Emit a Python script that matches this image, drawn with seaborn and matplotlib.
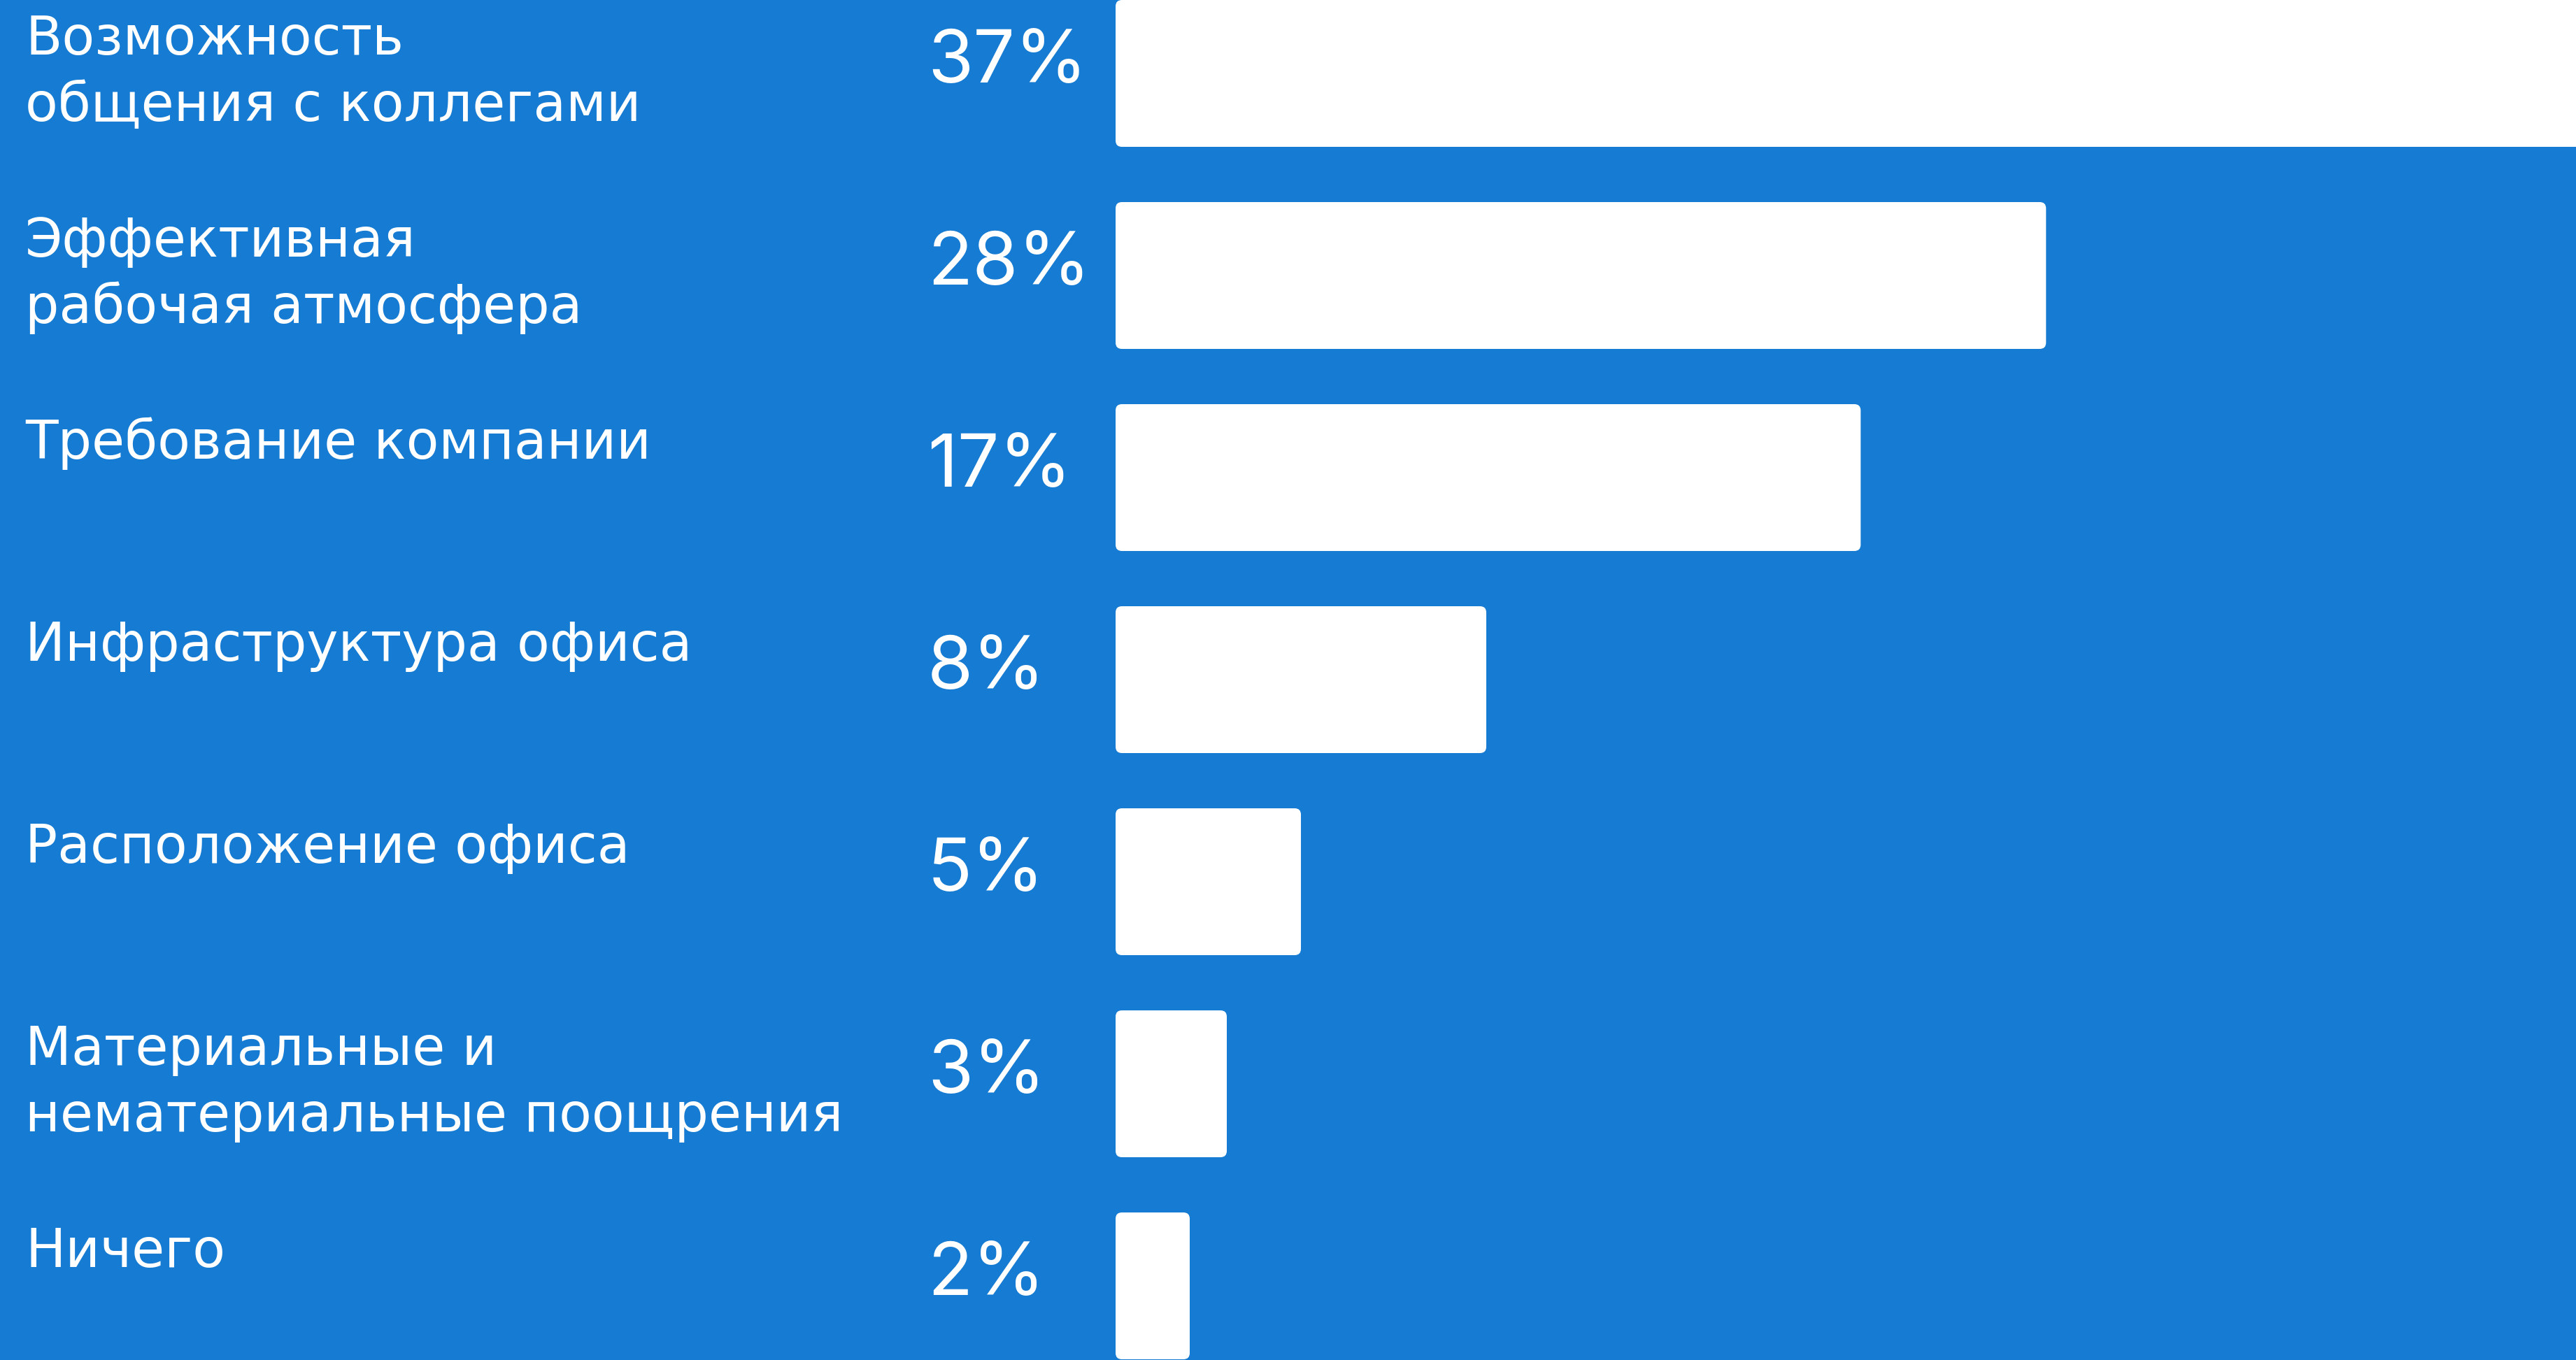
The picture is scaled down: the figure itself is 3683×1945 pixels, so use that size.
import matplotlib
matplotlib.use("Agg")
import matplotlib.pyplot as plt
import seaborn as sns
from matplotlib.patches import FancyBboxPatch
import matplotlib.transforms as mtransforms

# data
categories = [
    "Возможность\nобщения с коллегами",
    "Эффективная\nрабочая атмосфера",
    "Требование компании",
    "Инфраструктура офиса",
    "Расположение офиса",
    "Материальные и\nнематериальные поощрения",
    "Ничего",
]
shares = [37, 28, 17, 8, 5, 3, 2]
# bar lengths as drawn in the picture (first bar runs off the right edge)
bar_lengths = [40.0, 25.1, 20.1, 10.0, 5.0, 3.0, 2.0]

BG = "#167BD2"
W_PX, H_PX, DPI = 3683, 1945, 100
PX_X = 53.0    # pixels per x unit
PX_Y = 289.0   # pixels per category row
BAR_LEFT = 1595

sns.set_theme(style="white")
plt.rcParams["font.family"] = ["Inter", "DejaVu Sans"]

fig = plt.figure(figsize=(W_PX / DPI, H_PX / DPI), dpi=DPI)
fig.patch.set_facecolor(BG)
ax = fig.add_axes([0, 0, 1, 1])
ax.set_facecolor(BG)

rows = [str(i) for i in range(len(categories))]
sns.barplot(x=bar_lengths, y=rows, orient="h", color="white",
            width=210 / PX_Y, ax=ax, saturation=1)

ax.set_xlim(-BAR_LEFT / PX_X, (W_PX - BAR_LEFT) / PX_X)
ax.set_ylim((H_PX - 105) / PX_Y, -105 / PX_Y)
ax.axis("off")

# rounded corners
r = 9 / PX_X
for p in list(ax.patches):
    x, y = p.get_x(), p.get_y()
    w, h = p.get_width(), p.get_height()
    p.remove()
    ax.add_patch(FancyBboxPatch((x, y), w, h,
                                boxstyle=f"round,pad=0,rounding_size={r}",
                                mutation_aspect=PX_X / PX_Y,
                                fc="white", ec="none"))

trans = mtransforms.blended_transform_factory(ax.transAxes, ax.transData)
for i, (lab, s) in enumerate(zip(categories, shares)):
    for j, line in enumerate(lab.split("\n")):
        ax.text(0.0098, i - 27 / PX_Y + j * 95 / PX_Y, line, transform=trans,
                color="white", fontsize=55, va="baseline", ha="left",
                family=["DejaVu Sans"])
    ax.text(0.3600, i + 13 / PX_Y, f"{s}%", transform=trans,
            color="white", fontsize=76, va="baseline", ha="left")

fig.savefig("out.png", dpi=DPI, facecolor=BG)
